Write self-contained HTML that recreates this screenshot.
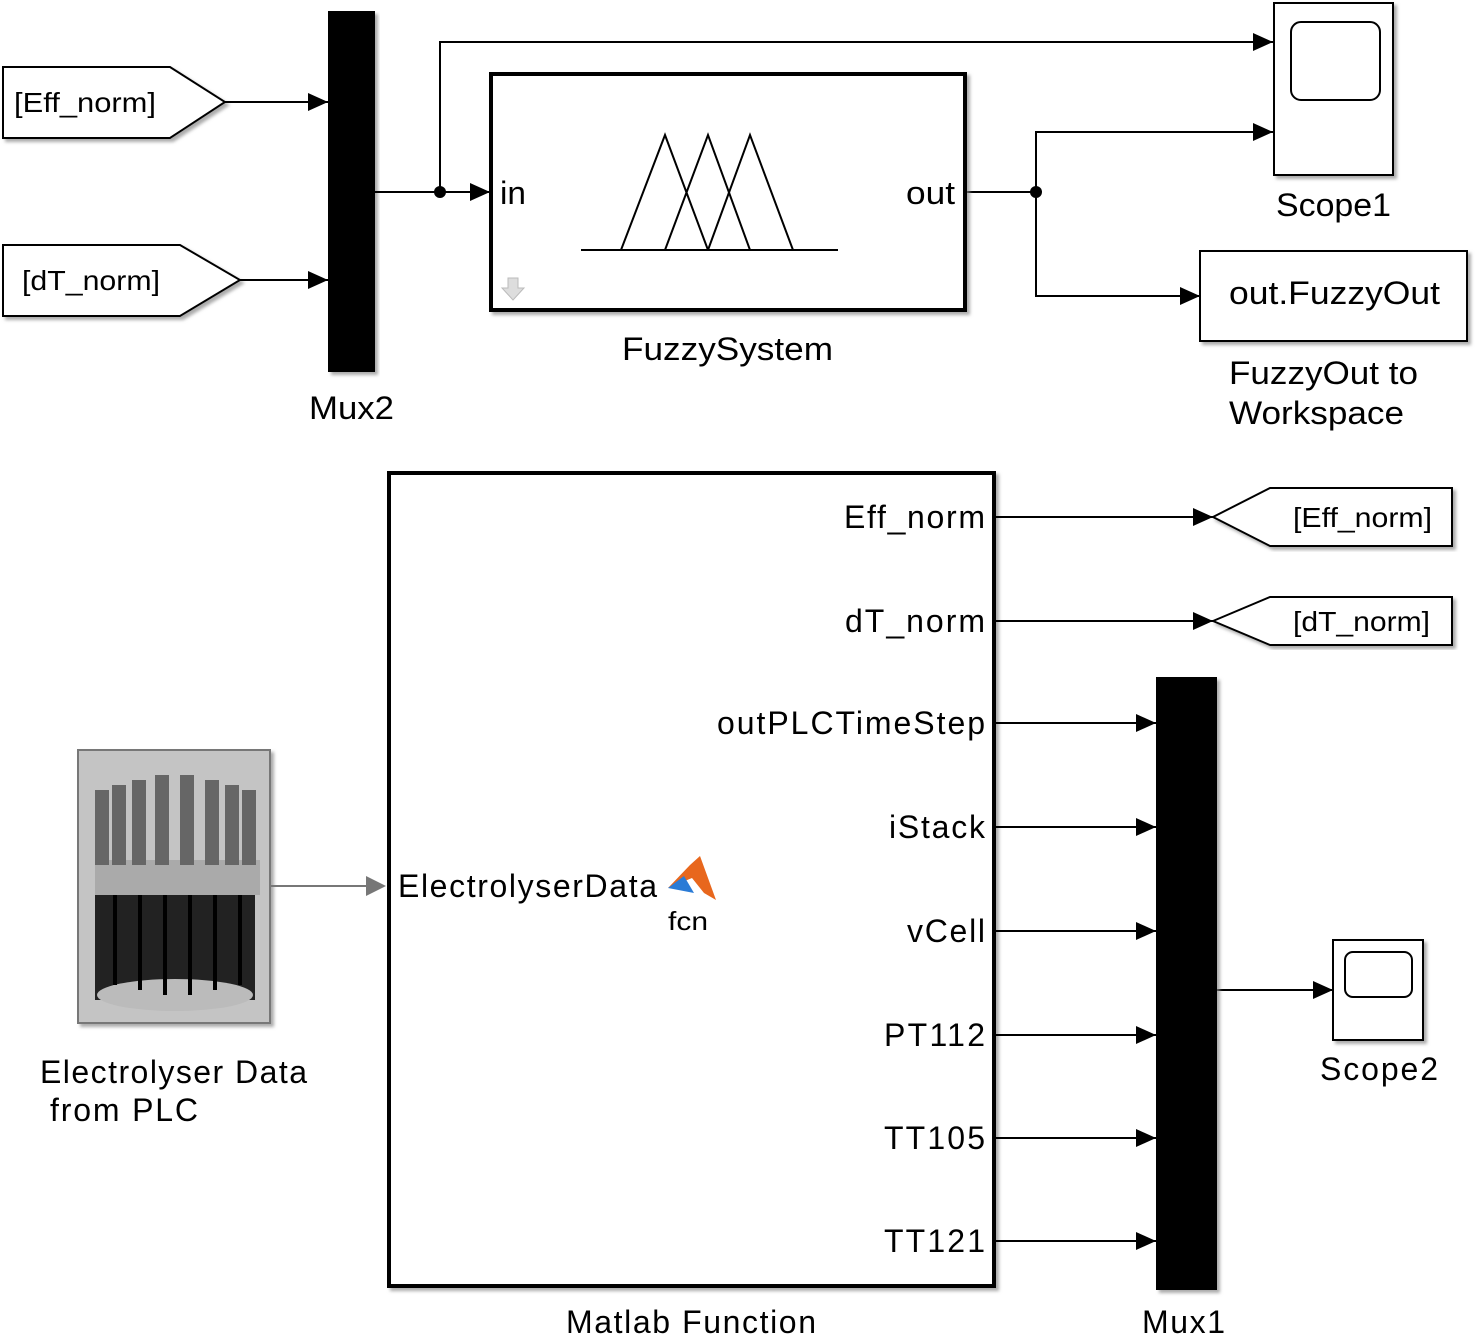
<!DOCTYPE html>
<html><head><meta charset="utf-8"><style>
html,body{margin:0;padding:0;background:#fff;}
svg text{font-family:"Liberation Sans",sans-serif;fill:#000;}
</style></head><body>
<svg width="1480" height="1338" viewBox="0 0 1480 1338" xmlns="http://www.w3.org/2000/svg">
<defs>
<marker id="a" markerWidth="20" markerHeight="18" refX="20" refY="9" orient="auto" markerUnits="userSpaceOnUse" viewBox="0 0 20 18"><path d="M0,0 L20,9 L0,18z" fill="#000"/></marker>
<filter id="sh" x="-5%" y="-5%" width="115%" height="115%"><feDropShadow dx="3" dy="3" stdDeviation="1.5" flood-color="#888" flood-opacity="0.7"/></filter>
</defs>
<g fill="none" stroke="#000" stroke-width="2">
<polygon points="3,67 170,67 225,102 170,138 3,138" fill="#fff" filter="url(#sh)"/>
<polygon points="3,245 180,245 240,280 180,316 3,316" fill="#fff" filter="url(#sh)"/>
</g>
<text x="14" y="112" font-size="28" textLength="142" lengthAdjust="spacingAndGlyphs">[Eff_norm]</text>
<text x="22" y="290" font-size="28" textLength="138" lengthAdjust="spacingAndGlyphs">[dT_norm]</text>
<rect x="328" y="11" width="47" height="361" fill="#000" filter="url(#sh)"/>
<text x="309" y="419" font-size="32" textLength="85" lengthAdjust="spacingAndGlyphs">Mux2</text>
<g stroke="#000" stroke-width="2" fill="none">
<line x1="225" y1="102" x2="328" y2="102" marker-end="url(#a)"/>
<line x1="240" y1="280" x2="328" y2="280" marker-end="url(#a)"/>
<line x1="375" y1="192" x2="490" y2="192" marker-end="url(#a)"/>
<polyline points="440,192 440,42 1273,42" marker-end="url(#a)"/>
<line x1="966" y1="192" x2="1036" y2="192"/>
<polyline points="1036,192 1036,132 1273,132" marker-end="url(#a)"/>
<polyline points="1036,192 1036,296 1200,296" marker-end="url(#a)"/>
</g>
<circle cx="440" cy="192" r="6"/>
<circle cx="1036" cy="192" r="6"/>
<rect x="491" y="74" width="474" height="236" fill="#fff" stroke="#000" stroke-width="4" filter="url(#sh)"/>
<text x="500" y="204" font-size="32" textLength="26" lengthAdjust="spacingAndGlyphs">in</text>
<text x="906" y="204" font-size="32" textLength="49" lengthAdjust="spacingAndGlyphs">out</text>
<g stroke="#000" stroke-width="2" fill="none">
<line x1="581" y1="250" x2="838" y2="250"/>
<polyline points="621,250 665,135 708,250"/>
<polyline points="665,250 708,135 750,250"/>
<polyline points="708,250 750,135 793,250"/>
</g>
<path d="M508,278 h10 v10 h6 l-11,12 l-11,-12 h6z" fill="#ddd" stroke="#bbb" stroke-width="1"/>
<text x="622" y="360" font-size="32" textLength="211" lengthAdjust="spacingAndGlyphs">FuzzySystem</text>
<rect x="1274" y="3" width="119" height="172" fill="#fff" stroke="#000" stroke-width="2" filter="url(#sh)"/>
<rect x="1291" y="22" width="89" height="78" rx="10" fill="#fff" stroke="#000" stroke-width="2"/>
<text x="1276" y="216" font-size="32" textLength="115" lengthAdjust="spacingAndGlyphs">Scope1</text>
<rect x="1200" y="251" width="267" height="90" fill="#fff" stroke="#000" stroke-width="2" filter="url(#sh)"/>
<text x="1229" y="304" font-size="32" textLength="211" lengthAdjust="spacingAndGlyphs">out.FuzzyOut</text>
<text x="1229" y="384" font-size="32" textLength="189" lengthAdjust="spacingAndGlyphs">FuzzyOut to</text>
<text x="1229" y="424" font-size="32" textLength="175" lengthAdjust="spacingAndGlyphs">Workspace</text>
<rect x="389" y="473" width="605" height="813" fill="#fff" stroke="#000" stroke-width="4" filter="url(#sh)"/>
<g font-size="32" lengthAdjust="spacingAndGlyphs">
<text x="844" y="528" textLength="141">Eff_norm</text>
<text x="845" y="632" textLength="140">dT_norm</text>
<text x="717" y="734" textLength="268">outPLCTimeStep</text>
<text x="889" y="838" textLength="96">iStack</text>
<text x="907" y="942" textLength="78">vCell</text>
<text x="884" y="1046" textLength="101">PT112</text>
<text x="884" y="1149" textLength="101">TT105</text>
<text x="884" y="1252" textLength="101">TT121</text>
<text x="398" y="897" textLength="259">ElectrolyserData</text>
<text x="566" y="1333" textLength="250">Matlab Function</text>
<text x="1142" y="1333" textLength="83">Mux1</text>
<text x="1320" y="1080" textLength="118">Scope2</text>
<text x="40" y="1083" textLength="267">Electrolyser Data</text>
<text x="50" y="1121" textLength="148">from PLC</text>
</g>
<path d="M668,888 L690,865 L700,856 L716,900 L704,893 L692,878 Z" fill="#e8671d"/>
<path d="M668,888 L684,876 L694,893 Z" fill="#2a7bd6"/>
<text x="668" y="930" font-size="26" textLength="40" lengthAdjust="spacingAndGlyphs">fcn</text>
<g stroke="#000" stroke-width="2" fill="none">
<line x1="995" y1="517" x2="1213" y2="517" marker-end="url(#a)"/>
<line x1="995" y1="621" x2="1213" y2="621" marker-end="url(#a)"/>
<line x1="995" y1="723" x2="1156" y2="723" marker-end="url(#a)"/>
<line x1="995" y1="827" x2="1156" y2="827" marker-end="url(#a)"/>
<line x1="995" y1="931" x2="1156" y2="931" marker-end="url(#a)"/>
<line x1="995" y1="1035" x2="1156" y2="1035" marker-end="url(#a)"/>
<line x1="995" y1="1138" x2="1156" y2="1138" marker-end="url(#a)"/>
<line x1="995" y1="1241" x2="1156" y2="1241" marker-end="url(#a)"/>
<line x1="1217" y1="990" x2="1333" y2="990" marker-end="url(#a)"/>
<polygon points="1213,517 1270,488 1452,488 1452,546 1270,546" fill="#fff" filter="url(#sh)"/>
<polygon points="1213,621 1270,597 1452,597 1452,645 1270,645" fill="#fff" filter="url(#sh)"/>
</g>
<text x="1293" y="527" font-size="28" textLength="139" lengthAdjust="spacingAndGlyphs">[Eff_norm]</text>
<text x="1293" y="631" font-size="28" textLength="137" lengthAdjust="spacingAndGlyphs">[dT_norm]</text>
<rect x="1156" y="677" width="61" height="613" fill="#000" filter="url(#sh)"/>
<rect x="1333" y="940" width="90" height="100" fill="#fff" stroke="#000" stroke-width="2" filter="url(#sh)"/>
<rect x="1345" y="952" width="67" height="45" rx="8" fill="#fff" stroke="#000" stroke-width="2"/>
<rect x="78" y="750" width="192" height="273" fill="#c4c4c4" stroke="#777" stroke-width="2" filter="url(#sh)"/>
<rect x="95" y="890" width="160" height="110" fill="#222"/>
<ellipse cx="175" cy="995" rx="78" ry="16" fill="#bbb"/>
<rect x="95" y="860" width="165" height="35" fill="#aaa"/>
<g fill="#666">
<rect x="95" y="790" width="14" height="75"/><rect x="112" y="785" width="14" height="80"/><rect x="132" y="780" width="14" height="85"/><rect x="155" y="775" width="14" height="90"/><rect x="180" y="775" width="14" height="90"/><rect x="205" y="780" width="14" height="85"/><rect x="225" y="785" width="14" height="80"/><rect x="242" y="790" width="14" height="75"/>
</g>
<g stroke="#000" stroke-width="4"><line x1="115" y1="895" x2="115" y2="985"/><line x1="140" y1="895" x2="140" y2="990"/><line x1="165" y1="895" x2="165" y2="995"/><line x1="190" y1="895" x2="190" y2="995"/><line x1="215" y1="895" x2="215" y2="990"/><line x1="240" y1="895" x2="240" y2="985"/></g>
<line x1="270" y1="886" x2="368" y2="886" stroke="#777" stroke-width="2"/>
<path d="M366,876 L386,886 L366,896z" fill="#777"/>
</svg>
</body></html>
